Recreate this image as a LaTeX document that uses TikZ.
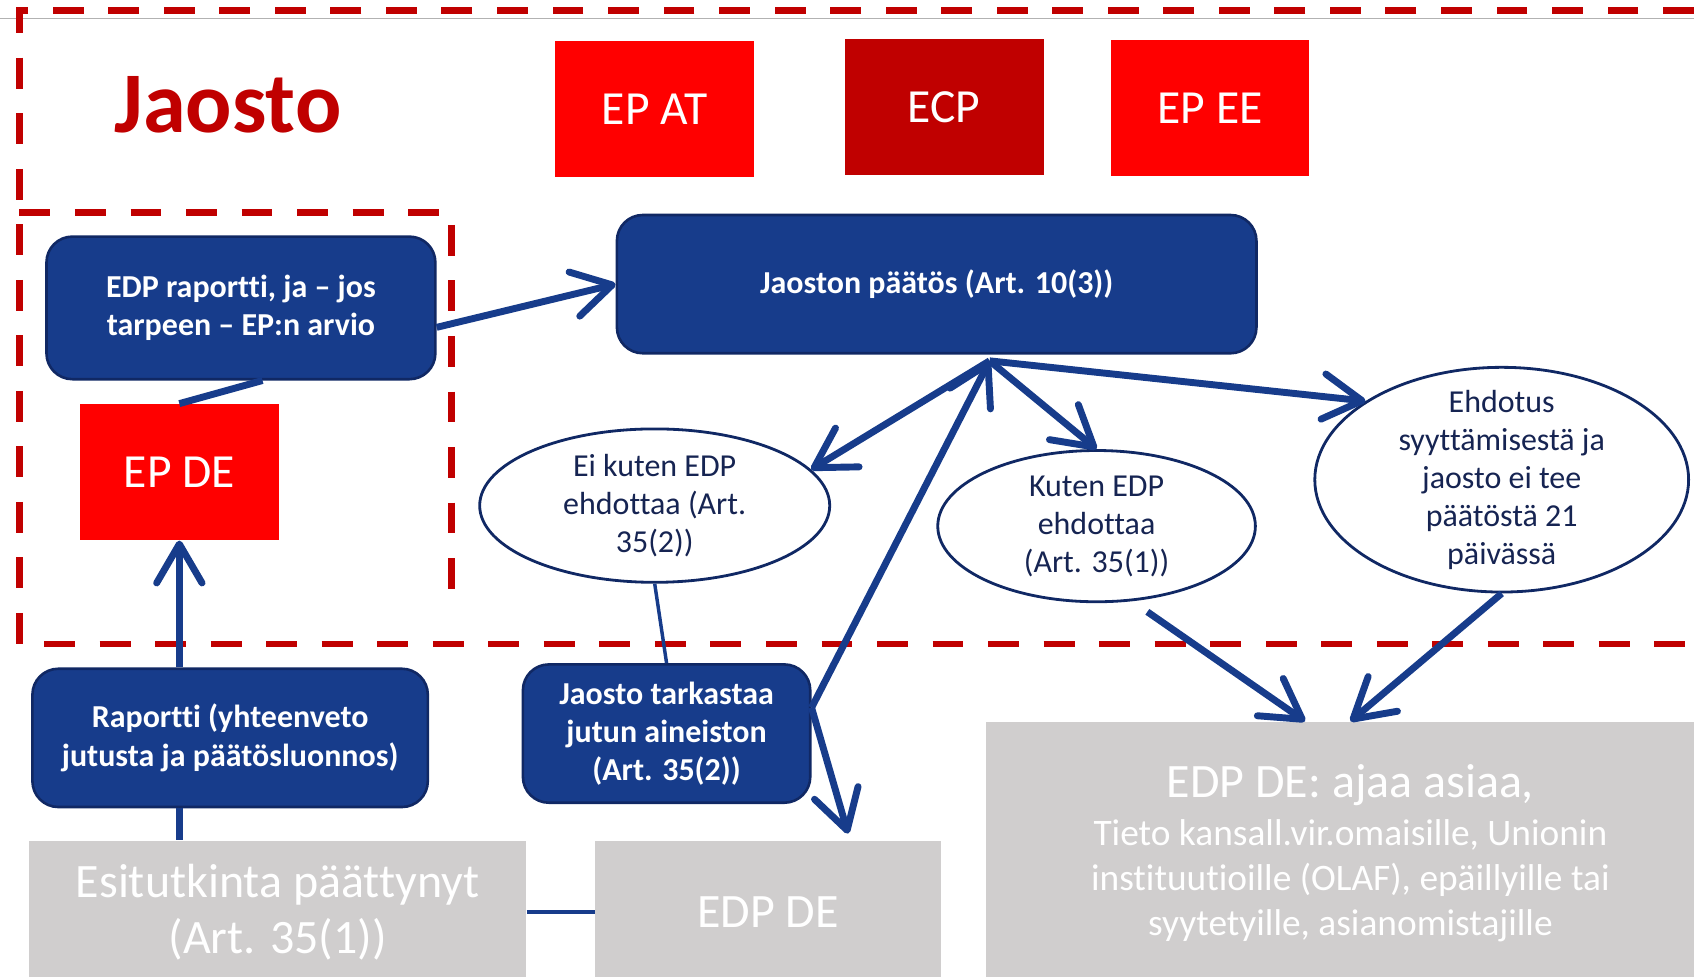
\documentclass[tikz,border=0pt]{standalone}
\usepackage{fontspec}
\setmainfont{Carlito}[Ligatures={TeX,NoCommon}]
\usetikzlibrary{arrows.meta,shapes.geometric}

\definecolor{epred}{RGB}{255,0,0}
\definecolor{darkred}{RGB}{192,0,0}
\definecolor{boxblue}{RGB}{23,60,139}
\definecolor{boxline}{RGB}{16,40,100}
\definecolor{ovaltext}{RGB}{22,36,82}
\definecolor{boxgray}{RGB}{208,206,206}

\begin{document}
\begin{tikzpicture}[x=0.5pt,y=0.5pt,yscale=-1,
	redbox/.style={fill=epred, text=white, minimum width=92pt, minimum height=63pt, inner sep=0pt, font=\fontsize{22}{26}\selectfont},
	bluebox/.style={rounded corners=12pt, fill=boxblue, draw=boxline, line width=1.2pt, text=white, align=center, inner sep=0pt, font=\bfseries\fontsize{14.8}{17.7}\selectfont},
	oval/.style={ellipse, draw=boxline, line width=1.3pt, text=ovaltext, align=center, inner sep=0pt, font=\fontsize{14.8}{17.6}\selectfont},
	graybox/.style={fill=boxgray, text=white, align=center, inner sep=0pt, font=\fontsize{22.2}{26}\selectfont},
	flow/.style={draw=boxblue, line width=3.2pt, -{Straight Barb[length=18pt,width=21pt,round]}},
	link/.style={draw=boxblue, line width=3.2pt},
	jaostoline/.style={draw=darkred, line width=3.1pt, dash pattern=on 14.3pt off 11.4pt}]
	\clip (0,0) rectangle (1568,904);
	
	%jaosto frame
	\draw[gray!60, line width=0.6pt] (0,17) -- (1568,17);
	\draw[jaostoline] (1568,10) -- (18,10) -- (18,596) -- (1568,596);
	\draw[jaostoline] (18,197) -- (418,197) -- (418,565);
	
	\node[font=\bfseries\fontsize{40}{46}\selectfont, text=darkred] (jaosto) at (211,97) {Jaosto};
	\node[redbox] (epat) at (606,101) {EP AT};
	\node[redbox, fill=darkred] (ecp) at (874,99) {ECP};
	\node[redbox] (epee) at (1120,100) {EP EE};
	\node[redbox] (epde) at (166,437) {EP DE};
	
	\node[bluebox, minimum width=180pt, minimum height=66pt] (edpraportti) at (223,285) {EDP raportti, ja – jos\\tarpeen – EP:n arvio};
	\node[bluebox, minimum width=296pt, minimum height=64pt] (paatos) at (867,263) {Jaoston päätös (Art. 10(3))};
	\node[bluebox, minimum width=183pt, minimum height=64pt] (raportti) at (213,683) {Raportti (yhteenveto\\jutusta ja päätösluonnos)};
	\node[bluebox, minimum width=133pt, minimum height=64pt] (tarkastaa) at (617,679) {Jaosto tarkastaa\\jutun aineiston\\(Art. 35(2))};
	
	\node[oval, minimum width=162pt, minimum height=71pt] (eikuten) at (606,468) {Ei kuten EDP\\ehdottaa (Art.\\35(2))};
	\node[oval, minimum width=147pt, minimum height=70pt] (kuten) at (1015,487) {Kuten EDP\\ehdottaa\\(Art. 35(1))};
	\node[oval, inner ysep=-7pt, minimum width=173pt, minimum height=104pt] (ehdotus) at (1390,444) {Ehdotus\\syyttämisestä ja\\jaosto ei tee\\päätöstä 21\\päivässä};
	
	\node[graybox, minimum width=230pt, minimum height=66pt] (esitutkinta) at (257,844) {Esitutkinta päättynyt\\(Art. 35(1))};
	\node[graybox, minimum width=160pt, minimum height=66pt] (edpde) at (711,844) {EDP DE};
	\node[graybox, minimum width=337pt, minimum height=122pt, font=\fontsize{17.3}{21}\selectfont] (ajaa) at (1250,790) {{\fontsize{22.2}{26}\selectfont EDP DE: ajaa asiaa,}\\[1pt]Tieto kansall.vir.omaisille, Unionin\\instituutioille (OLAF), epäillyille tai\\syytetyille, asianomistajille};
	
	%connectors
	\coordinate (hub) at (916,334);
	\draw[link] (epde.north) -- ([xshift=10pt]edpraportti.south);
	\draw[flow] ([yshift=9pt]edpraportti.east) -- (paatos.west);
	\draw[flow] (hub) -- (eikuten.13);
	\draw[flow] (hub) -- (kuten.north);
	\draw[flow] (hub) -- (ehdotus.150);
	\draw[flow] ([yshift=-12pt]tarkastaa.east) -- (hub);
	\draw[flow] ([yshift=-12pt]tarkastaa.east) -- ([xshift=37pt,yshift=-3pt]edpde.north);
	\draw[link, line width=1.6pt] (eikuten.south) -- (tarkastaa.north);
	\draw[flow] (raportti.north -| epde.south) -- (epde.south);
	\draw[link] (raportti.south -| epde.south) -- (esitutkinta.north -| epde.south);
	\draw[link, line width=1.6pt] (esitutkinta.east) -- (edpde.west);
	\draw[flow] ([xshift=23.5pt,yshift=4pt]kuten.south) -- ([xshift=-21pt]ajaa.north);
	\draw[flow] (ehdotus.south) -- (ajaa.north);
	
\end{tikzpicture}
\end{document}
